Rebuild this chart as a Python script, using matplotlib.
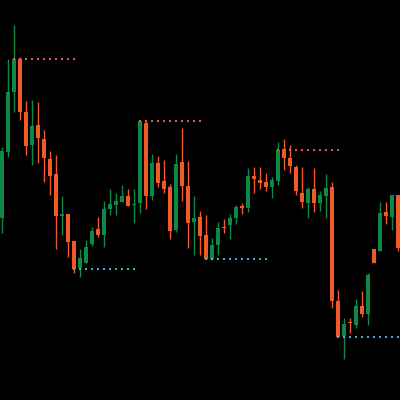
import matplotlib
matplotlib.use("Agg")
import matplotlib.pyplot as plt
import numpy as np

# OHLC data (arbitrary price units)
opens  = [182, 248, 308, 341, 288, 255, 275, 261, 241, 226, 184, 186, 159, 132, 137, 156, 171,
          165, 191, 195, 198, 204, 195, 197, 277, 204, 237, 219, 213, 170, 238, 214, 178, 183,
          165, 141, 155, 172.5, 175, 182, 194, 192, 224, 220, 218, 213, 219, 251, 242, 233,
          207, 197, 211, 197, 204, 213, 99, 64, 77.5, 75, 94, 86, 151, 149, 188, 183, 205]
highs  = [253, 341, 375, 343, 299, 300, 298, 270, 249, 245, 204, 186, 159, 151, 160, 173, 183,
          199, 211, 207, 215, 211, 211, 280, 279, 246, 244, 240, 216, 246, 272, 239, 204, 189,
          185, 162, 178, 181, 186, 195, 197, 232, 233, 233, 227, 223, 258, 261, 255, 235,
          233, 213, 232, 209, 226, 218, 110, 82, 82, 101, 109, 127, 151, 198, 198, 205, 205]
lows   = [167, 243, 288, 280, 245, 235, 237, 218, 205, 151, 165, 143, 127, 123, 137, 154, 163,
          153, 185, 185, 198, 194, 177, 187, 191, 200, 213, 207, 161, 168, 199, 152, 145, 145,
          141, 140, 145, 167, 161, 176, 186, 188, 207, 211, 209, 202, 215, 230, 227, 205,
          192, 182, 188, 189, 182, 92, 63, 41, 67, 72, 83, 75, 137, 149, 176, 170, 149]
closes = [249, 308, 341, 288, 254, 274, 262, 242, 224, 184, 186, 158, 131, 142, 153, 169, 165,
          191, 196, 199, 204, 194, 195.5, 279, 204, 237, 217, 211, 169, 236, 214, 177, 182, 164,
          141, 155, 172, 172, 182, 193, 192, 224, 221, 217, 213, 220, 250, 242, 234, 209,
          198, 211, 197, 205, 212, 99, 63, 76, 77, 94, 86, 125, 137, 187, 184, 205, 152]

# swing points: candle index and kind (high -> red dotted, low -> cyan dotted)
swing_idx  = [2, 12, 23, 34, 46, 56]
swing_kind = ["high", "low", "high", "low", "high", "low"]
swing_len = 11

UP = "#0c8a45"
DOWN = "#f05a28"
HI_DOT = "#e0584f"
LO_DOT = "#3fb2d6"

fig = plt.figure(figsize=(4, 4), dpi=100, facecolor="black")
ax = fig.add_axes([0, 0, 1, 1])
ax.set_facecolor("black")

n = len(opens)
x = 2 + 6 * np.arange(n)
o = np.array(opens, float); h = np.array(highs, float)
l = np.array(lows, float); c = np.array(closes, float)
up = c >= o
cols = np.where(up, UP, DOWN)

ax.vlines(x, l, h, colors=cols, linewidth=1.0, zorder=2)
bottom = np.minimum(o, c)
height = np.maximum(np.abs(c - o), 1.0)
ax.bar(x, height, bottom=bottom, width=4.4, color=cols, linewidth=0, zorder=3)

for i, kind in zip(swing_idx, swing_kind):
    xs = x[i:i + swing_len]
    if kind == "high":
        lvl = max(o[i], c[i])
        col = HI_DOT
    else:
        lvl = min(o[i], c[i])
        col = LO_DOT
    ax.scatter(xs, np.full(len(xs), lvl), marker="s", s=3.6, color=col,
               linewidths=0, zorder=4)

ax.set_xlim(0, 400)
ax.set_ylim(0, 400)
ax.axis("off")
fig.savefig("out.png", dpi=100, facecolor="black")
